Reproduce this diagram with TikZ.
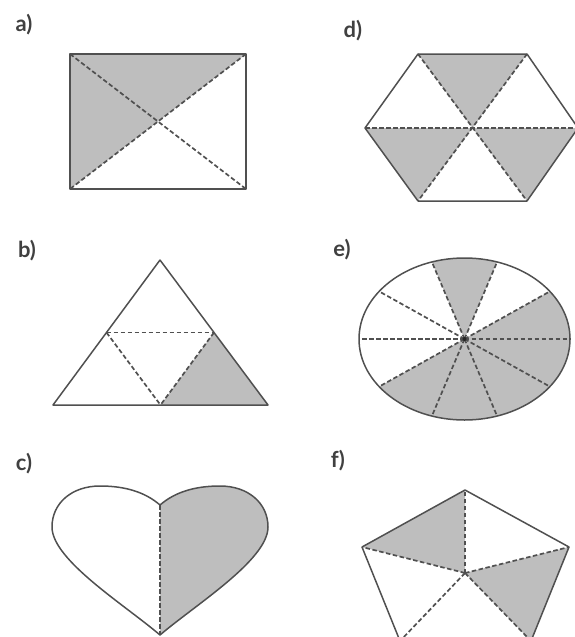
\documentclass[tikz,border=0pt]{standalone}
\usepackage{fontspec}
\setmainfont{Lato}
\definecolor{fillg}{RGB}{190,190,190}
\definecolor{lineg}{RGB}{80,80,80}
\begin{document}
\begin{tikzpicture}[x=1pt,y=-1pt,
  outl/.style={draw=lineg, line width=1.5pt, line join=round},
  dsh/.style={draw=lineg, line width=1.7pt, dash pattern=on 4.5pt off 2.5pt},
  lab/.style={font=\fontsize{22}{26}\selectfont\bfseries, text=black!75, inner sep=0pt}]
\useasboundingbox (0,0) rectangle (574,637);

% ---------- a) rectangle
\node[lab] (la) at (24,25) {a)};
\coordinate (a1) at (70,54);
\coordinate (a2) at (246,54);
\coordinate (a3) at (246,189);
\coordinate (a4) at (70,189);
\coordinate (ac) at (158,121.5);
\fill[fillg] (a1) -- (a2) -- (ac) -- (a4) -- cycle;
\draw[dsh] (a1) -- (a3);
\draw[dsh] (a2) -- (a4);
\draw[outl] (a1) -- (a2) -- (a3) -- (a4) -- cycle;

% ---------- b) triangle
\node[lab] (lb) at (27,251) {b)};
\coordinate (b1) at (160,260);
\coordinate (b2) at (268,405);
\coordinate (b3) at (53,405);
\coordinate (bm1) at (106.5,332.5);
\coordinate (bm2) at (214,332.5);
\coordinate (bm3) at (160.5,405);
\fill[fillg] (bm2) -- (b2) -- (bm3) -- cycle;
\draw[dsh] (bm1) -- (bm2);
\draw[dsh] (bm1) -- (bm3);
\draw[dsh] (bm2) -- (bm3);
\draw[outl] (b1) -- (b2) -- (b3) -- cycle;

% ---------- c) heart
\node[lab] (lc) at (24,464) {c)};
\coordinate (ccusp) at (160,505);
\coordinate (ctip) at (160,635);
\fill[fillg] (ccusp) .. controls (175,492) and (195,486) .. (220,486)
  .. controls (248,486) and (268,503) .. (268,527)
  .. controls (268,560) and (195,605) .. (ctip) -- cycle;
\draw[dsh] (ccusp) -- (ctip);
\draw[outl] (ccusp) .. controls (175,492) and (195,486) .. (220,486)
  .. controls (248,486) and (268,503) .. (268,527)
  .. controls (268,560) and (195,605) .. (ctip)
  .. controls (125,605) and (52,560) .. (52,527)
  .. controls (52,503) and (72,486) .. (100,486)
  .. controls (125,486) and (145,492) .. (ccusp) -- cycle;

% ---------- d) hexagon
\node[lab] (ld) at (353,31) {d)};
\coordinate (d1) at (418,54);
\coordinate (d2) at (527,54);
\coordinate (d3) at (578,128);
\coordinate (d4) at (527,201);
\coordinate (d5) at (418,201);
\coordinate (d6) at (365,128);
\coordinate (dc) at (472.5,128);
\fill[fillg] (d1) -- (d2) -- (dc) -- cycle;
\fill[fillg] (d6) -- (d5) -- (dc) -- cycle;
\fill[fillg] (d4) -- (d3) -- (dc) -- cycle;
\draw[dsh] (d6) -- (d3);
\draw[dsh] (d1) -- (d4);
\draw[dsh] (d2) -- (d5);
\draw[outl] (d1) -- (d2) -- (d3) -- (d4) -- (d5) -- (d6) -- cycle;

% ---------- e) ellipse
\node[lab] (le) at (342,250) {e)};
\coordinate (ec) at (464.5,339);
\fill[fillg] (ec) -- plot[domain=72:108, samples=20] ({464.5+105.5*cos(\x)},{339-81*sin(\x)}) -- cycle;
\fill[fillg] (ec) -- plot[domain=216:396, samples=60] ({464.5+105.5*cos(\x)},{339-81*sin(\x)}) -- cycle;
\foreach \t in {0,36,...,324}
  \draw[dsh] (ec) -- ({464.5+105.5*cos(\t)},{339-81*sin(\t)});
\draw[outl] (ec) ellipse [x radius=105.5pt, y radius=81pt];
\fill[black!85] (ec) circle (2pt);

% ---------- f) pentagon
\node[lab] (lf) at (338,461) {f)};
\coordinate (f1) at (465,490);
\coordinate (f2) at (569,547);
\coordinate (f3) at (531,641);
\coordinate (f4) at (400,641);
\coordinate (f5) at (362,547);
\coordinate (fc) at (465,573);
\fill[fillg] (f1) -- (f5) -- (fc) -- cycle;
\fill[fillg] (f2) -- (f3) -- (fc) -- cycle;
\foreach \v in {f1,f2,f3,f4,f5}
  \draw[dsh] (fc) -- (\v);
\draw[outl] (f1) -- (f2) -- (f3) -- (f4) -- (f5) -- cycle;
\end{tikzpicture}
\end{document}
